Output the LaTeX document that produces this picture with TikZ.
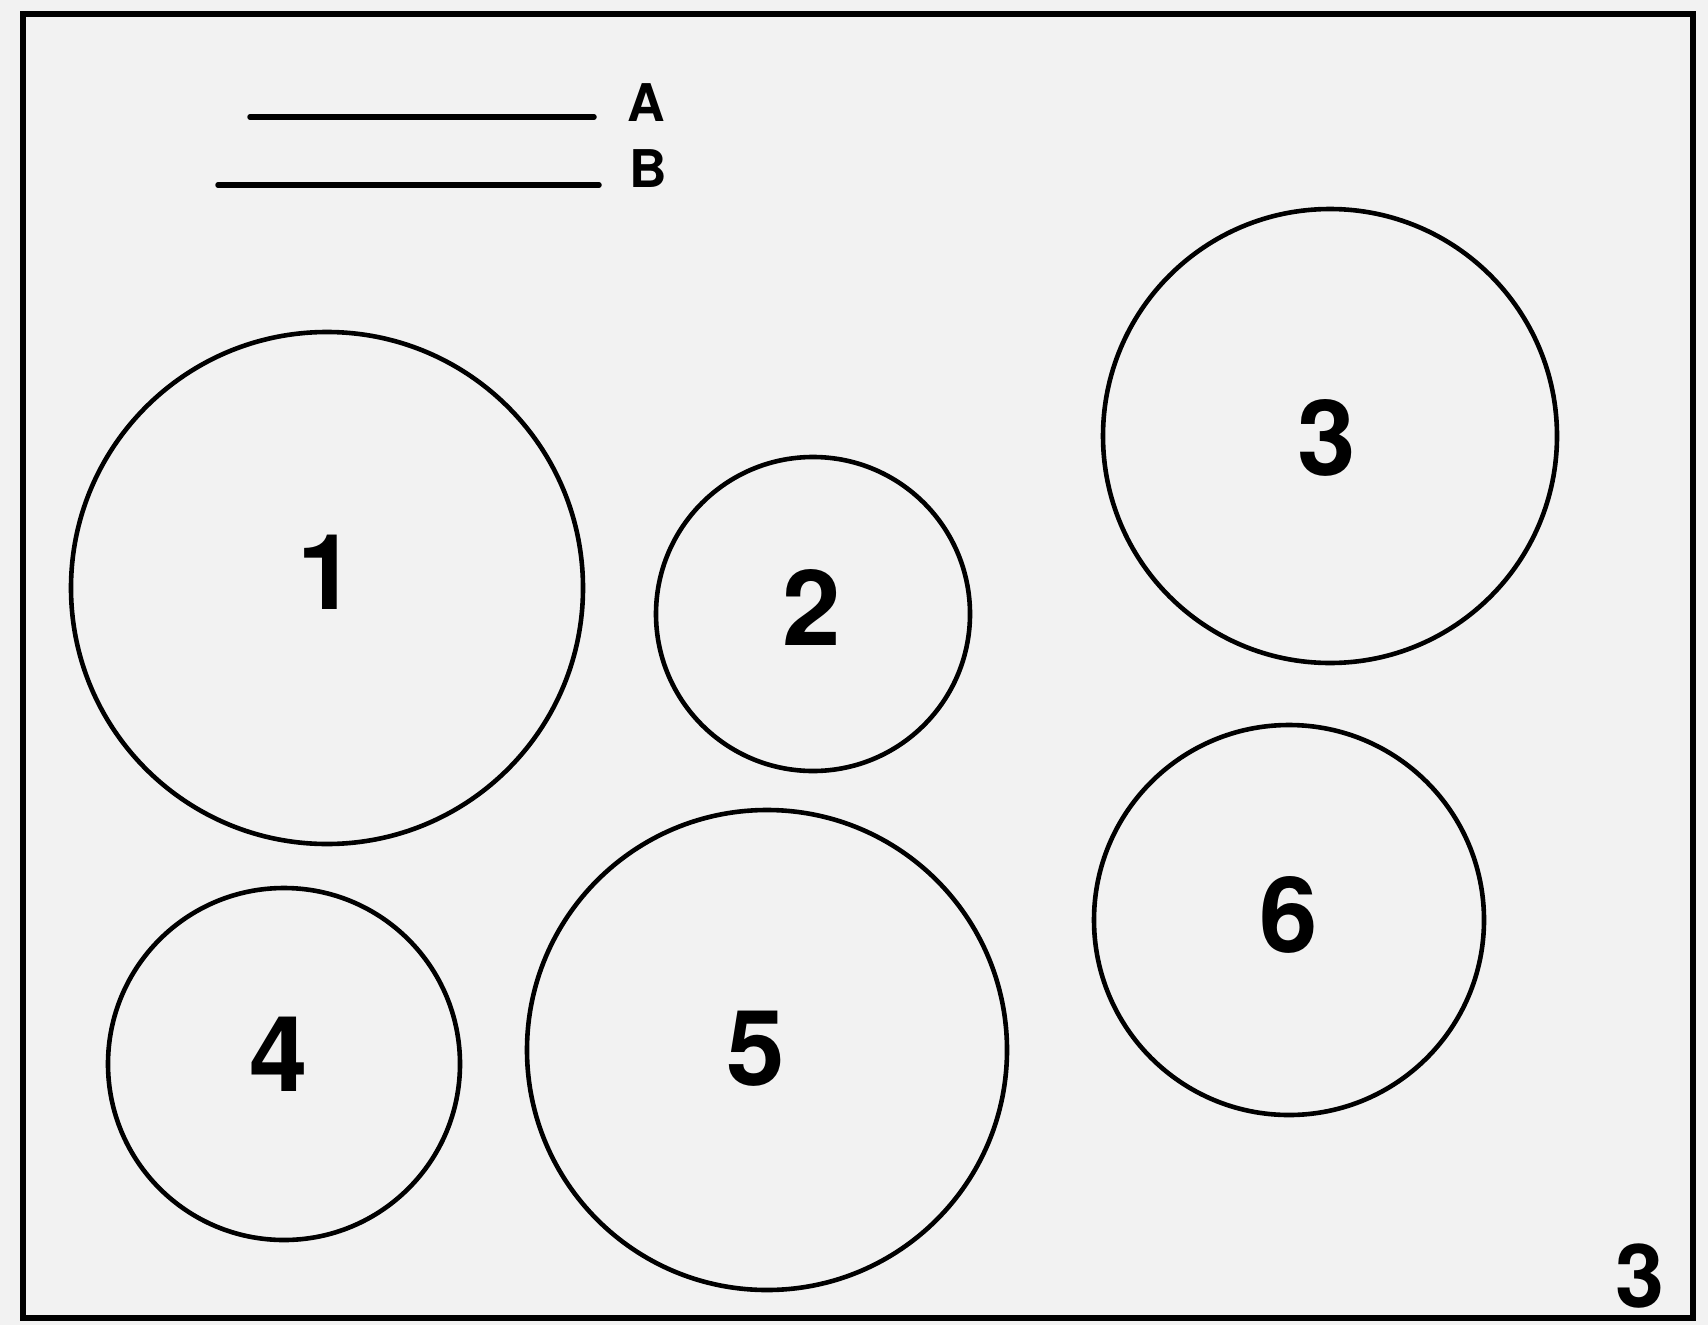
\documentclass[tikz,border=0pt]{standalone}
\usepackage{fontspec}
\setmainfont{TeX Gyre Heros}
\begin{document}
\begin{tikzpicture}[x=1pt,y=-1pt,
  ring/.style={circle,draw=black,line width=4.6pt,inner sep=0pt,fill=none},
  digit/.style={font=\fontsize{105}{105}\selectfont\bfseries,inner sep=0pt},
  letter/.style={font=\fontsize{52}{52}\selectfont\bfseries,inner sep=0pt},
  bar/.style={line width=5.5pt,line cap=round}]
\fill[black!5] (0,0) rectangle (1708,1325);
\useasboundingbox (0,0) rectangle (1708,1325);
\draw[line width=6pt] (23,14) rectangle (1693,1318);
% legend lines
\coordinate (a1) at (250,117); \coordinate (a2) at (594,117);
\coordinate (b1) at (218,185); \coordinate (b2) at (599,185);
\draw[bar] (a1) -- (a2);
\draw[bar] (b1) -- (b2);
\node[letter] (la) at (646,103) {A};
\node[letter] (lb) at (648,169) {B};
% circles
\node[ring,minimum size=512pt] (c1) at (327,588) {};
\node[ring,minimum size=314pt] (c2) at (813,614) {};
\node[ring,minimum size=454pt] (c3) at (1330,436) {};
\node[ring,minimum size=352pt] (c4) at (284,1064) {};
\node[ring,minimum size=480pt] (c5) at (767,1050) {};
\node[ring,minimum size=390pt] (c6) at (1289,920) {};
% digits
\node[digit] (d1) at (327,572) {1};
\node[digit] (d2) at (812,607) {2};
\node[digit] (d3) at (1327,438) {3};
\node[digit] (d4) at (279,1054) {4};
\node[digit] (d5) at (756,1049) {5};
\node[digit] (d6) at (1289,915) {6};
\node[font=\fontsize{88}{88}\selectfont\bfseries,inner sep=0pt] (fig) at (1640,1276) {3};
\end{tikzpicture}
\end{document}
